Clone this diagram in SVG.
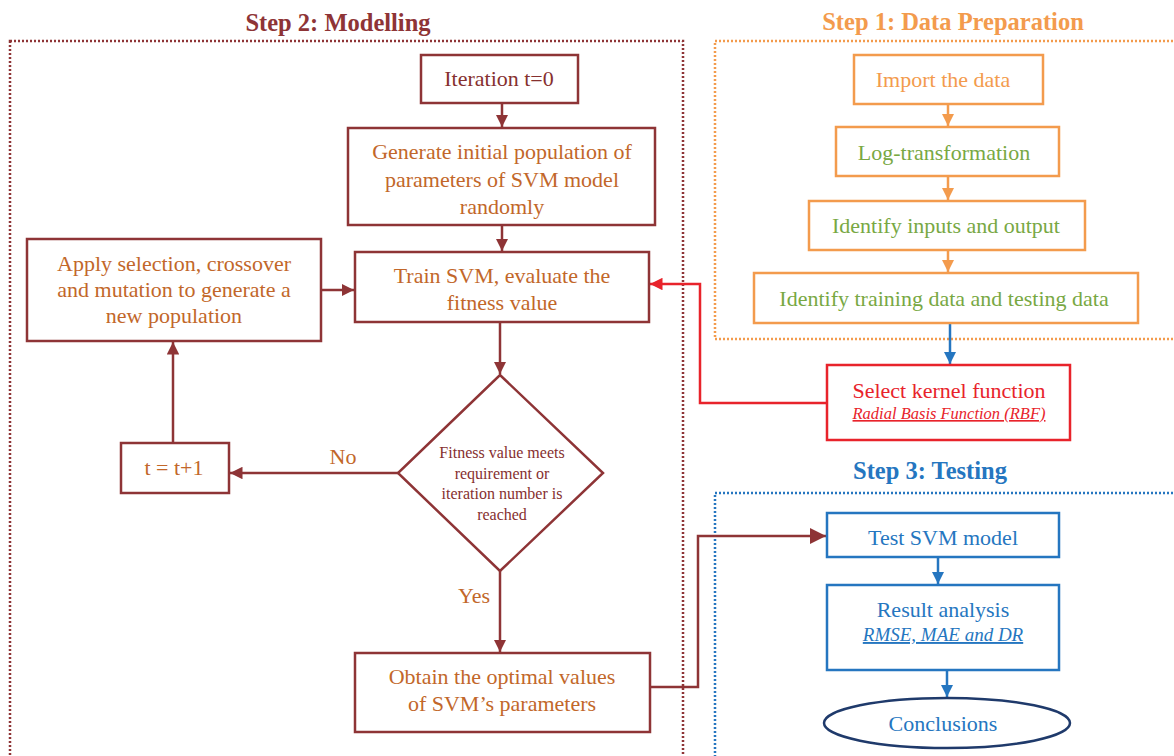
<svg xmlns="http://www.w3.org/2000/svg" width="1174" height="756" viewBox="0 0 1174 756">
<defs>
<style>
text{font-family:"Liberation Serif","Times New Roman",serif;text-anchor:middle}
.title{font-weight:bold;font-size:24.5px}
.t{font-size:22px}
.s2{fill:none;stroke:#8E3436;stroke-width:2.5}
.s1{fill:none;stroke:#F39B4D;stroke-width:2.5}
.s3{fill:none;stroke:#2576C0;stroke-width:2.5}
.brown{fill:#C2672A}
.dred{fill:#86302F}
.org{fill:#F39B4D}
.grn{fill:#78A843}
.blu{fill:#2576C0}
.red{fill:#E8232B}
.c2{stroke:#8E3436;stroke-width:2.5;fill:none}
.c1{stroke:#F39B4D;stroke-width:2.5;fill:none}
.c3{stroke:#2576C0;stroke-width:2.5;fill:none}
.cr{stroke:#E8232B;stroke-width:2.5;fill:none}
</style>
<marker id="a2" viewBox="0 0 10 10" refX="10" refY="5" markerWidth="5" markerHeight="5" orient="auto" markerUnits="strokeWidth"><path d="M0,0L10,5L0,10z" fill="#8E3436"/></marker>
<marker id="a1" viewBox="0 0 10 10" refX="10" refY="5" markerWidth="5" markerHeight="5" orient="auto" markerUnits="strokeWidth"><path d="M0,0L10,5L0,10z" fill="#F39B4D"/></marker>
<marker id="a3" viewBox="0 0 10 10" refX="10" refY="5" markerWidth="5" markerHeight="5" orient="auto" markerUnits="strokeWidth"><path d="M0,0L10,5L0,10z" fill="#2576C0"/></marker>
<marker id="ar" viewBox="0 0 10 10" refX="10" refY="5" markerWidth="5" markerHeight="5" orient="auto" markerUnits="strokeWidth"><path d="M0,0L10,5L0,10z" fill="#E8232B"/></marker>
<marker id="a2b" viewBox="0 0 10 10" refX="10" refY="5" markerWidth="6.4" markerHeight="6.4" orient="auto" markerUnits="strokeWidth"><path d="M0,0L10,5L0,10z" fill="#8E3436"/></marker>
</defs>
<rect width="1174" height="756" fill="#FFFFFF"/>

<g id="frames">
<rect x="10" y="41" width="673" height="730" fill="none" stroke="#8E3436" stroke-width="2.5" stroke-dasharray="2 2"/>
<text class="title" x="338" y="31" fill="#8E3436">Step 2: Modelling</text>
<rect x="715" y="41" width="480" height="298" fill="none" stroke="#F39B4D" stroke-width="2.5" stroke-dasharray="2 2"/>
<text class="title" x="953" y="30" fill="#F39B4D">Step 1: Data Preparation</text>
<rect x="715" y="493" width="480" height="290" fill="none" stroke="#2576C0" stroke-width="2.5" stroke-dasharray="2 2"/>
<text class="title" x="930" y="479" fill="#2576C0">Step 3: Testing</text>
</g>

<g id="connectors">
<line class="c2" x1="502" y1="103" x2="502" y2="127" marker-end="url(#a2)"/>
<line class="c2" x1="502" y1="225" x2="502" y2="251" marker-end="url(#a2)"/>
<line class="c2" x1="321" y1="290" x2="354" y2="290" marker-end="url(#a2)"/>
<line class="c2" x1="500" y1="322" x2="500" y2="374" marker-end="url(#a2)"/>
<line class="c2" x1="398" y1="473" x2="230" y2="473" marker-end="url(#a2)"/>
<line class="c2" x1="173" y1="443" x2="173" y2="342" marker-end="url(#a2)"/>
<line class="c2" x1="500" y1="571" x2="500" y2="652" marker-end="url(#a2)"/>
<polyline class="c2" points="650,687 698,687 698,536 826,536" marker-end="url(#a2b)"/>
<polyline class="cr" points="827,403 700,403 700,284 650,284" marker-end="url(#ar)"/>
<line class="c1" x1="948" y1="104" x2="948" y2="126" marker-end="url(#a1)"/>
<line class="c1" x1="948" y1="176" x2="948" y2="200" marker-end="url(#a1)"/>
<line class="c1" x1="948" y1="250" x2="948" y2="272" marker-end="url(#a1)"/>
<line class="c3" x1="950" y1="323" x2="950" y2="364" marker-end="url(#a3)"/>
<line class="c3" x1="938" y1="557" x2="938" y2="584" marker-end="url(#a3)"/>
<line class="c3" x1="947" y1="670" x2="947" y2="697" marker-end="url(#a3)"/>
<text class="t brown" x="343" y="464">No</text>
<text class="t brown" x="474" y="603">Yes</text>
</g>

<g id="iteration">
<rect class="s2" x="421" y="55" width="157" height="48"/>
<text class="t dred" x="499" y="86">Iteration t=0</text>
</g>
<g id="generate">
<rect class="s2" x="348" y="128" width="307" height="97"/>
<text class="t brown" x="502" y="159">Generate initial population of</text>
<text class="t brown" x="502" y="187">parameters of SVM model</text>
<text class="t brown" x="502" y="214">randomly</text>
</g>
<g id="train">
<rect class="s2" x="355" y="252" width="294" height="70"/>
<text class="t brown" x="502" y="283">Train SVM, evaluate the</text>
<text class="t brown" x="502" y="310">fitness value</text>
</g>
<g id="apply">
<rect class="s2" x="27" y="239" width="294" height="102"/>
<text class="t brown" x="174" y="271">Apply selection, crossover</text>
<text class="t brown" x="174" y="297">and mutation to generate a</text>
<text class="t brown" x="174" y="323">new population</text>
</g>
<g id="decision">
<polygon class="s2" points="500,375 603,473 500,571 398,473"/>
<text class="dred" style="font-size:16px" x="502" y="458">Fitness value meets</text>
<text class="dred" style="font-size:16px" x="502" y="479">requirement or</text>
<text class="dred" style="font-size:16px" x="502" y="499">iteration number is</text>
<text class="dred" style="font-size:16px" x="502" y="520">reached</text>
</g>
<g id="increment">
<rect class="s2" x="121" y="443" width="108" height="50"/>
<text class="t brown" x="174" y="475">t = t+1</text>
</g>
<g id="obtain">
<rect class="s2" x="355" y="653" width="295" height="79"/>
<text class="t brown" x="502" y="684">Obtain the optimal values</text>
<text class="t brown" x="502" y="711">of SVM’s parameters</text>
</g>

<g id="import">
<rect class="s1" x="854" y="55" width="189" height="49"/>
<text class="t org" x="943" y="87">Import the data</text>
</g>
<g id="log">
<rect class="s1" x="836" y="127" width="223" height="49"/>
<text class="t grn" x="944" y="160">Log-transformation</text>
</g>
<g id="inputs">
<rect class="s1" x="809" y="201" width="276" height="49"/>
<text class="t grn" x="946" y="233">Identify inputs and output</text>
</g>
<g id="split">
<rect class="s1" x="754" y="273" width="384" height="50"/>
<text class="t grn" x="944" y="306">Identify training data and testing data</text>
</g>

<g id="kernel">
<rect x="827" y="365" width="243" height="75" fill="none" stroke="#E8232B" stroke-width="2.5"/>
<text class="t red" x="949" y="398">Select kernel function</text>
<text class="red" style="font-size:16.5px;font-style:italic;text-decoration:underline" x="949" y="419">Radial Basis Function (RBF)</text>
</g>

<g id="test">
<rect class="s3" x="827" y="513" width="232" height="44"/>
<text class="t blu" x="943" y="545">Test SVM model</text>
</g>
<g id="result">
<rect class="s3" x="827" y="585" width="232" height="85"/>
<text class="t blu" x="943" y="617">Result analysis</text>
<text class="blu" style="font-size:19px;font-style:italic;text-decoration:underline" x="943" y="641">RMSE, MAE and DR</text>
</g>
<g id="conclusions">
<ellipse cx="947" cy="723" rx="123" ry="25" fill="none" stroke="#1F3A6B" stroke-width="2.5"/>
<text class="t blu" x="943" y="731">Conclusions</text>
</g>
</svg>
